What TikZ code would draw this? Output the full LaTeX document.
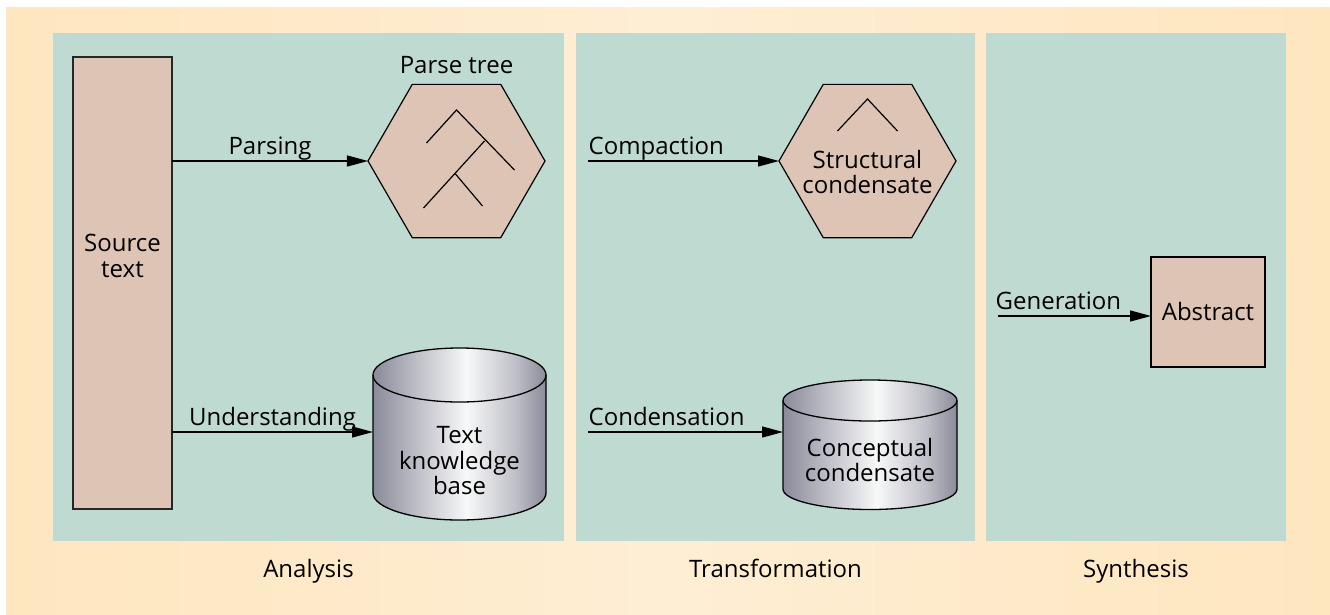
\documentclass[tikz,border=0pt]{standalone}
\usepackage{fontspec}
\setmainfont{Open Sans}
\usetikzlibrary{arrows.meta,shapes.geometric}
\definecolor{bgO}{RGB}{254,230,191}
\definecolor{bgL}{RGB}{254,238,212}
\definecolor{panelc}{RGB}{191,218,209}
\definecolor{tanc}{RGB}{222,196,180}
\definecolor{cd}{RGB}{138,139,153}
\definecolor{cm}{RGB}{192,192,201}
\definecolor{cl}{RGB}{247,248,248}
\pgfdeclarehorizontalshading{cylshade}{100bp}{color(0bp)=(cd); color(25bp)=(cd); color(38bp)=(cm); color(52bp)=(cl); color(66bp)=(cm); color(75bp)=(cd); color(100bp)=(cd)}
\tikzset{
  lbl/.style={inner sep=0pt, font=\fontsize{24}{25.5}\selectfont, align=center},
  arrlbl/.style={lbl, yshift=6.5pt},
  arr/.style={-{Triangle[length=21pt,width=11pt]}, line width=1.3pt},
  hexa/.style={regular polygon, regular polygon sides=6,
    minimum size=177pt, inner sep=0pt, outer sep=0pt, draw, fill=tanc, line width=1.2pt},
  cylfill/.style={shading=cylshade},
  cylline/.style={draw=black, line width=1.3pt},
  panel/.style={fill=panelc}
}
\begin{document}
\begin{tikzpicture}[x=1pt,y=1pt]
\useasboundingbox (0,0) rectangle (1330,-614);
\fill[white] (0,0) rectangle (1330,-614);
\shade[left color=bgO, right color=bgO, middle color=bgL] (6,-7) rectangle (1330,-614);
% panels
\fill[panel] (53,-33) rectangle (564,-541);
\fill[panel] (576,-33) rectangle (975,-541);
\fill[panel] (986,-33) rectangle (1286,-541);
\node[lbl, anchor=base] (lA) at (308.5,-577) {Analysis};
\node[lbl, anchor=base] (lT) at (775.5,-577) {Transformation};
\node[lbl, anchor=base] (lS) at (1136,-577) {Synthesis};
% source text
\node[draw=black!85, line width=2pt, fill=tanc, minimum width=99pt, minimum height=452pt, inner sep=0pt, outer sep=0pt] (src) at (122.5,-283) {};
\node[lbl] (srcT) at (122.5,-256) {Source\\text};
% parse tree
\node[hexa] (hex1) at (456.5,-161) {};
\node[lbl, anchor=base] (pt) at (456.5,-73) {Parse tree};
\begin{scope}[shift={(hex1.center)}, line width=1.2pt]
\draw (-30,18) -- (0,51) -- (58,-9);
\draw (28,20) -- (-33,-47);
\draw (-1,-13) -- (26,-45);
\end{scope}
\draw[arr] (src.east |- hex1.west) -- node[arrlbl, anchor=base] {Parsing} (hex1.west);
% text knowledge base cylinder
\shade[cylfill] (373,-375) -- (373,-493) arc[start angle=180,end angle=360,x radius=86.5,y radius=27] -- (546,-375) arc[start angle=0,end angle=180,x radius=86.5,y radius=27] -- cycle;
\draw[cylline] (373,-375) -- (373,-493) arc[start angle=180,end angle=360,x radius=86.5,y radius=27] -- (546,-375);
\draw[cylline] (459.5,-375) ellipse[x radius=86.5,y radius=27];
\node[lbl] (kb1) at (459.5,-461) {Text\\knowledge\\base};
\coordinate (kb1W) at (373,-432);
\draw[arr] (src.east |- kb1W) -- node[arrlbl, anchor=base] {Understanding} (kb1W);
% structural condensate
\node[hexa] (hex2) at (867.5,-161) {};
\begin{scope}[shift={(hex2.center)}, line width=1.2pt]
\draw (-30,30) -- (0,62) -- (30,30);
\end{scope}
\node[lbl] (sc) at (867.5,-172) {Structural\\condensate};
\coordinate (cS) at (588,-161);
\draw[arr] (cS) -- node[arrlbl, anchor=base west, pos=0] {Compaction} (hex2.west);
% conceptual condensate cylinder
\shade[cylfill] (783,-400.5) -- (783,-489) arc[start angle=180,end angle=360,x radius=87,y radius=20.5] -- (957,-400.5) arc[start angle=0,end angle=180,x radius=87,y radius=20.5] -- cycle;
\draw[cylline] (783,-400.5) -- (783,-489) arc[start angle=180,end angle=360,x radius=87,y radius=20.5] -- (957,-400.5);
\draw[cylline] (870,-400.5) ellipse[x radius=87,y radius=20.5];
\node[lbl] (cc) at (870,-460) {Conceptual\\condensate};
\coordinate (kb2W) at (783,-432);
\coordinate (cC) at (588,-432);
\draw[arr] (cC) -- node[arrlbl, anchor=base west, pos=0] {Condensation} (kb2W);
% abstract
\node[draw, line width=1.2pt, fill=tanc, minimum width=114pt, minimum height=110pt, inner sep=0pt, outer sep=0pt] (abs) at (1208,-312) {};
\node[lbl, anchor=base] (absT) at (1208,-320) {Abstract};
\coordinate (gS) at (998,-316);
\draw[arr] (gS) -- node[arrlbl, anchor=base west, pos=0, xshift=-3pt] {Generation} (gS -| abs.west);
\end{tikzpicture}
\end{document}
